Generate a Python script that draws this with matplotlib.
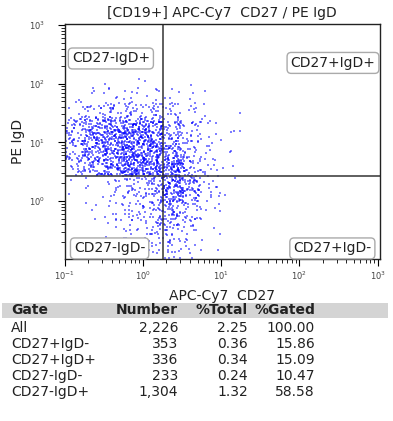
import numpy as np
import matplotlib
matplotlib.use('Agg')
import matplotlib.pyplot as plt
from matplotlib.patches import Rectangle

plt.rcParams['font.family'] = ['DejaVu Sans']

# quadrant gates (linear units)
gate_x = 1.8
gate_y = 2.72

# density grid of events (log10 bin edges)
x_edges = [-1.0, -0.75, -0.5, -0.25, 0.0, 0.25, 0.5, 0.75, 1.0, 1.25]
y_edges = [2.19, 1.94, 1.69, 1.44, 1.19, 0.94, 0.69, 0.44,
           0.19, -0.06, -0.31, -0.56, -0.81, -0.98]
# rows go from top bin to bottom bin, columns left to right
counts = [
    [0, 0, 1, 1, 1, 0, 1, 0, 0],
    [1, 3, 5, 6, 5, 4, 2, 1, 0],
    [5, 13, 18, 22, 19, 14, 6, 2, 1],
    [24, 45, 55, 62, 56, 28, 12, 4, 1],
    [32, 58, 72, 83, 75, 40, 16, 5, 2],
    [27, 55, 72, 88, 80, 52, 20, 6, 2],
    [15, 38, 62, 88, 85, 80, 28, 7, 2],
    [1, 3, 8, 20, 30, 70, 40, 8, 1],
    [1, 2, 7, 16, 27, 65, 35, 7, 1],
    [0, 2, 5, 13, 22, 35, 18, 3, 0],
    [0, 1, 4, 10, 18, 22, 10, 2, 0],
    [0, 1, 3, 8, 13, 14, 6, 1, 0],
    [0, 0, 2, 6, 10, 10, 4, 1, 0],
]
# off-scale events piled on the left axis, per row
pinned = [0, 0, 3, 8, 10, 8, 3, 0, 0, 0, 0, 0, 0]

# statistics table
gates = ['All', 'CD27+IgD-', 'CD27+IgD+', 'CD27-IgD-', 'CD27-IgD+']
numbers = [2226, 353, 336, 233, 1304]
pct_total = [2.25, 0.36, 0.34, 0.24, 1.32]
pct_gated = [100.00, 15.86, 15.09, 10.47, 58.58]

# place events inside their bins (jitter only for drawing)
rng = np.random.default_rng(3)
xs, ys = [], []
for i, row in enumerate(counts):
    y_hi, y_lo = y_edges[i], y_edges[i + 1]
    for j, n in enumerate(row):
        if n == 0:
            continue
        xs.append(rng.uniform(x_edges[j], x_edges[j + 1], n))
        ys.append(rng.uniform(y_lo, y_hi, n))
    if pinned[i]:
        xs.append(np.full(pinned[i], x_edges[0]))
        ys.append(rng.uniform(y_lo, y_hi, pinned[i]))
xs = 10 ** np.concatenate(xs)
ys = 10 ** np.concatenate(ys)

fig = plt.figure(figsize=(3.93, 4.21), dpi=100)
ax = fig.add_axes([64.5 / 393, 1 - 258.5 / 421, 315.5 / 393, 234.5 / 421])

ax.scatter(xs, ys, s=1.1, marker='s', color='#0000ff', alpha=0.5, linewidths=0)
ax.set_xscale('log')
ax.set_yscale('log')
ax.set_xlim(10 ** -1.0, 10 ** 3.03)
ax.set_ylim(10 ** -0.98, 10 ** 3.02)

ax.axvline(gate_x, color='#333333', lw=1.1)
ax.axhline(gate_y, color='#333333', lw=1.1)

for sp in ax.spines.values():
    sp.set_color('#222222')
    sp.set_linewidth(1.0)

ax.tick_params(which='major', length=5, width=0.8, labelsize=6, labelcolor='#444444')
ax.tick_params(which='minor', length=3, width=0.6)
ax.tick_params(axis='x', which='major', pad=3)
ax.tick_params(axis='y', which='major', pad=9)

ax.set_title('[CD19+] APC-Cy7  CD27 / PE IgD', fontsize=10, color='#222222', pad=5)
ax.set_xlabel('APC-Cy7  CD27', fontsize=10, color='#222222', labelpad=5)
ax.set_ylabel('PE IgD', fontsize=10, color='#222222', labelpad=3)

box = dict(boxstyle='round,pad=0.25,rounding_size=0.3', fc='white', ec='#aaaaaa', lw=1)
quad_labels = [('CD27-IgD+', 0.147, 0.853), ('CD27+IgD+', 0.851, 0.834),
               ('CD27-IgD-', 0.143, 0.043), ('CD27+IgD-', 0.849, 0.043)]
for txt, qx, qy in quad_labels:
    ax.text(qx, qy, txt, transform=ax.transAxes, ha='center', va='center',
            fontsize=10, color='#222222', bbox=box, zorder=5)

# table below the plot
W, H = 393, 421
fig.patches.append(Rectangle((2 / W, 1 - 318 / H), 386 / W, 15 / H,
                             transform=fig.transFigure, fc='#d4d4d4', ec='none'))
col_right = [178, 248, 315]
header_y = 310
fig.text(11 / W, 1 - header_y / H, 'Gate', fontsize=10, fontweight='bold',
         ha='left', va='center', color='#222222')
for name, cx in zip(['Number', '%Total', '%Gated'], col_right):
    fig.text(cx / W, 1 - header_y / H, name, fontsize=10, fontweight='bold',
             ha='right', va='center', color='#222222')

row_y = [328, 344, 360, 376, 392]
for g, n, pt, pg, ry in zip(gates, numbers, pct_total, pct_gated, row_y):
    yy = 1 - ry / H
    fig.text(11 / W, yy, g, fontsize=10, ha='left', va='center', color='#222222')
    fig.text(col_right[0] / W, yy, f'{n:,}', fontsize=10, ha='right', va='center', color='#222222')
    fig.text(col_right[1] / W, yy, f'{pt:.2f}', fontsize=10, ha='right', va='center', color='#222222')
    fig.text(col_right[2] / W, yy, f'{pg:.2f}', fontsize=10, ha='right', va='center', color='#222222')

fig.savefig('out.png', dpi=100)
